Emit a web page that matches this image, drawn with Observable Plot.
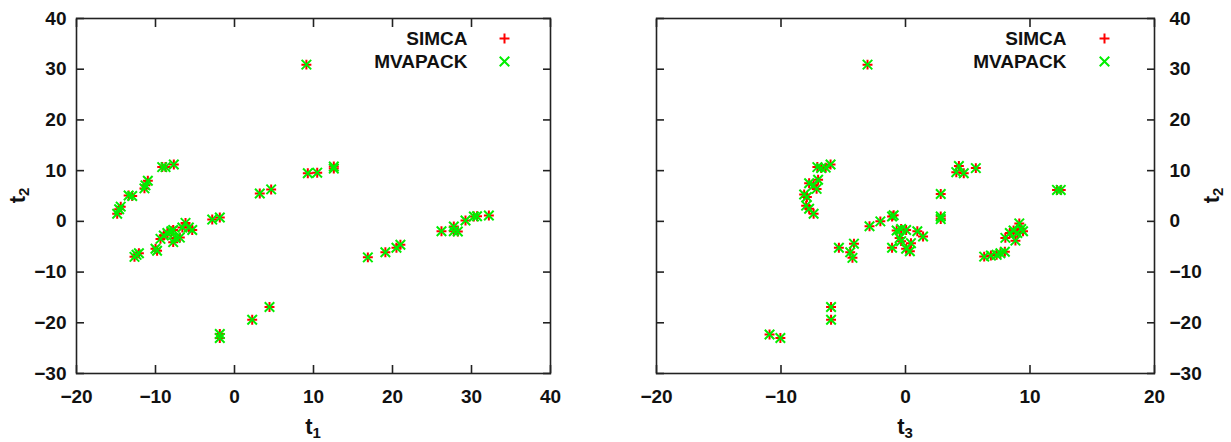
<!DOCTYPE html>
<html>
<head>
<meta charset="utf-8">
<script src="https://cdn.jsdelivr.net/npm/d3@7"></script>
<script src="https://cdn.jsdelivr.net/npm/@observablehq/plot@0.6"></script>
<style>
  html, body { margin: 0; padding: 0; background: #fff; }
  #wrap { display: flex; width: 1231px; height: 442px; }
  svg { font-family: "Liberation Sans", Arial, sans-serif; }
</style>
</head>
<body>
<div id="wrap"></div>
<script>
// Left panel: t1 (x) vs t2 (y)
const leftT1 = [9.1, -14.85, -14.6, -14.4, -13.4, -12.95, -11.4, -11.27, -10.97, -9.15, -8.73, -7.68,
  3.2, 4.64, 9.28, 10.47, 12.57, 12.57, -2.82, -1.86, -12.66, -12.4, -12.1, -10.0, -9.8,
  -9.37, -8.95, -8.5, -8.0, -7.76, -7.76, -7.47, -6.92, -6.6, -6.2, -5.78, -5.35,
  -1.86, -1.86, 2.24, 4.43, 16.88, 19.1, 20.5, 21.0, 26.2, 27.76, 27.76, 28.27, 29.24, 30.3, 30.7, 32.2];
const leftT2 = [30.9, 1.5, 2.4, 2.9, 5.1, 5.0, 6.5, 7.1, 8.0, 10.7, 10.7, 11.2,
  5.5, 6.3, 9.5, 9.6, 10.8, 10.4, 0.35, 0.75, -7.0, -6.6, -6.3, -5.4, -5.8,
  -3.46, -2.8, -2.3, -1.95, -1.7, -4.1, -3.26, -3.2, -1.2, -0.3, -1.2, -1.7,
  -22.2, -23.0, -19.4, -16.9, -7.1, -6.1, -5.2, -4.6, -1.95, -1.0, -1.95, -2.0, 0.16, 0.95, 1.0, 1.15];

// Right panel: t3 (x) vs t2 (y)
const rightT3 = [-3.05, -10.92, -10.05, -5.98, -5.98,
  -7.08, -6.77, -6.41, -6.02, -7.74, -7.38, -7.02, -7.14, -8.14, -7.92, -7.98, -7.74, -7.38,
  2.83, 2.83, 2.83, 4.08, 4.29, 4.68, 5.65, 12.17, 12.47,
  -2.89, -2.02, -1.08, -0.95, -5.35, -4.44, -4.14, -4.26, -1.08,
  -0.71, -0.35, 0.05, -0.47, -0.35, 0.05, 0.35, 0.44, 0.95, 1.41,
  6.32, 6.86, 7.32, 7.62, 7.98, 8.02, 8.38, 8.68, 8.83, 8.98, 9.14, 9.29, 9.44];
const rightT2 = [30.9, -22.3, -23.0, -16.9, -19.4,
  10.7, 10.5, 10.6, 11.2, 7.5, 7.1, 8.2, 6.4, 5.3, 4.8, 3.1, 2.5, 1.5,
  5.4, 0.95, 0.45, 9.7, 10.9, 9.5, 10.5, 6.2, 6.2,
  -0.96, 0.0, 0.95, 1.2, -5.2, -6.1, -4.4, -7.2, -5.2,
  -1.8, -1.5, -1.7, -3.3, -3.9, -5.4, -5.9, -4.3, -1.95, -3.0,
  -6.95, -6.75, -6.6, -6.3, -6.0, -3.26, -2.3, -1.8, -3.8, -2.3, -0.4, -1.5, -1.95];

const seriesNames = ["SIMCA", "MVAPACK"];
const seriesColors = ["#ff0000", "#00ee00"];
const leftXTicks = [-20, -10, 0, 10, 20, 30, 40];
const rightXTicks = [-20, -10, 0, 10, 20];
const yTicks = [-30, -20, -10, 0, 10, 20, 30, 40];

const FONT = 19;
const frameColor = "#222";
const plusR = 3.3, timesR = 4.4, markW = 2;

function panel({xs, ys, xDomain, xTicks, yAnchor, width, marginLeft, marginRight, legendTextDx, legendMarkDx, xSub, ySide}) {
  const pts = xs.map((x, i) => ({x, y: ys[i]}));
  const yOther = yAnchor === "left" ? "right" : "left";
  const plot = Plot.plot({
    width, height: 442,
    marginTop: 18, marginBottom: 69, marginLeft, marginRight,
    style: {fontFamily: "Liberation Sans, Arial, sans-serif", fontSize: FONT + "px", fontWeight: "bold", color: "#111", background: "#fff"},
    x: {domain: xDomain, ticks: xTicks, label: null},
    y: {domain: [-30, 40], ticks: yTicks, label: null},
    marks: [
      Plot.frame({stroke: frameColor, strokeWidth: 1.6}),
      Plot.axisX({anchor: "bottom", ticks: xTicks, tickSize: -8, tickPadding: 24, stroke: frameColor, strokeWidth: 1.6, fontSize: FONT, label: null}),
      Plot.axisX({anchor: "top", ticks: xTicks, tickSize: -8, tickFormat: () => "", stroke: frameColor, strokeWidth: 1.6, label: null}),
      Plot.axisY({anchor: yAnchor, ticks: yTicks, tickSize: -8, tickPadding: yAnchor === "left" ? 18 : 23, stroke: frameColor, strokeWidth: 1.6, fontSize: FONT, label: null}),
      Plot.axisY({anchor: yOther, ticks: yTicks, tickSize: -8, tickFormat: () => "", stroke: frameColor, strokeWidth: 1.6, label: null}),
      Plot.dot(pts, {x: "x", y: "y", symbol: "plus", r: plusR, stroke: seriesColors[0], strokeWidth: markW}),
      Plot.dot(pts, {x: "x", y: "y", symbol: "times", r: timesR, stroke: seriesColors[1], strokeWidth: markW}),
      // legend
      Plot.text([seriesNames[0]], {text: d => d, frameAnchor: "top-right", lineAnchor: "middle", textAnchor: "end", dx: legendTextDx, dy: 20, fontSize: FONT, fill: "#111"}),
      Plot.text([seriesNames[1]], {text: d => d, frameAnchor: "top-right", lineAnchor: "middle", textAnchor: "end", dx: legendTextDx, dy: 43, fontSize: FONT, fill: "#111"}),
      Plot.dot([0], {frameAnchor: "top-right", dx: legendMarkDx, dy: 20, symbol: "plus", r: plusR, stroke: seriesColors[0], strokeWidth: markW}),
      Plot.dot([0], {frameAnchor: "top-right", dx: legendMarkDx, dy: 43, symbol: "times", r: timesR, stroke: seriesColors[1], strokeWidth: markW})
    ]
  });
  // axis titles with subscripts
  const svg = d3.select(plot);
  const cx = marginLeft + (width - marginLeft - marginRight) / 2;
  const cy = 18 + (442 - 18 - 69) / 2;
  const xt = svg.append("text")
    .attr("x", cx).attr("y", 434)
    .attr("text-anchor", "middle")
    .attr("font-size", FONT + 3).attr("font-weight", "bold").attr("fill", "#111");
  xt.append("tspan").text("t");
  xt.append("tspan").attr("dy", 4).attr("font-size", FONT - 4).text(xSub);
  const yx = ySide === "left" ? 25 : width - 12;
  const yt = svg.append("text")
    .attr("transform", `translate(${yx},${cy}) rotate(-90)`)
    .attr("text-anchor", "middle")
    .attr("font-size", FONT + 3).attr("font-weight", "bold").attr("fill", "#111");
  yt.append("tspan").text("t");
  yt.append("tspan").attr("dy", 4).attr("font-size", FONT - 4).text("2");
  return plot;
}

const wrap = document.getElementById("wrap");
wrap.append(panel({xs: leftT1, ys: leftT2, xDomain: [-20, 40], xTicks: leftXTicks, yAnchor: "left",
  width: 615, marginLeft: 76, marginRight: 65, legendTextDx: -83, legendMarkDx: -46, xSub: "1", ySide: "left"}));
wrap.append(panel({xs: rightT3, ys: rightT2, xDomain: [-20, 20], xTicks: rightXTicks, yAnchor: "right",
  width: 616, marginLeft: 41, marginRight: 77, legendTextDx: -88, legendMarkDx: -50, xSub: "3", ySide: "right"}));
</script>
</body>
</html>
